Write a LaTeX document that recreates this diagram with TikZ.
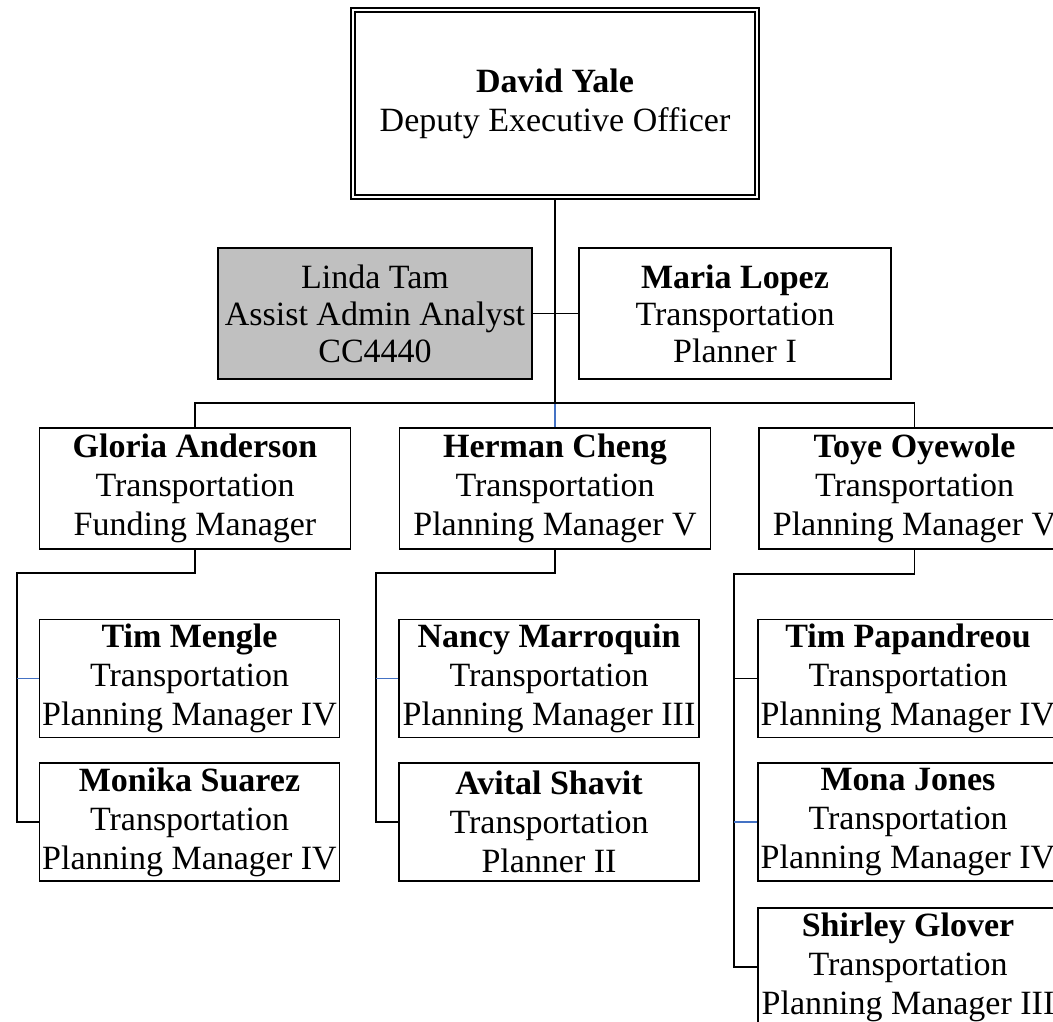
\documentclass[tikz,border=0pt]{standalone}
\usepackage{fontspec}
\setmainfont{Liberation Serif}
\definecolor{linkblue}{HTML}{4472C4}
\definecolor{boxgray}{HTML}{C0C0C0}
\begin{document}
\begin{tikzpicture}[x=1pt,y=-1pt,
  box/.style={draw=black, line width=1.7pt, fill=white, inner sep=0pt, align=center,
    font=\fontsize{34}{39}\selectfont},
  row/.style={box, minimum width=311pt, minimum height=121pt},
  sub/.style={box, minimum width=300pt, minimum height=118pt},
  conn/.style={draw=black, line width=1.7pt},
  bconn/.style={draw=linkblue, line width=1.7pt}]
\useasboundingbox (0,0) rectangle (1053,1021);
\clip (0,0) rectangle (1053,1021);
% top
\node[box, line width=2.2pt, minimum width=408pt, minimum height=191pt] (yale) at (555,103.5)
  {\textbf{David Yale}\\Deputy Executive Officer};
\draw[line width=1.4pt] ([shift={(5,5)}]yale.north west) rectangle ([shift={(-5,-5)}]yale.south east);
\node[box, fill=boxgray, minimum width=314pt, minimum height=131pt, font=\fontsize{34}{37}\selectfont] (linda) at (375,313.5)
  {Linda Tam\\Assist Admin Analyst\\CC4440};
\node[box, minimum width=312pt, minimum height=131pt, font=\fontsize{34}{37}\selectfont] (maria) at (735,313.5)
  {\textbf{Maria Lopez}\\Transportation\\Planner I};
% managers
\node[row] (gloria) at (195,488.5) {\textbf{Gloria Anderson}\\Transportation\\Funding Manager};
\node[row] (herman) at (555,488.5) {\textbf{Herman Cheng}\\Transportation\\Planning Manager V};
\node[row] (toye) at (914.5,488.5) {\textbf{Toye Oyewole}\\Transportation\\Planning Manager V};
% subordinates
\node[sub] (timm) at (189.5,678.5) {\textbf{Tim Mengle}\\Transportation\\Planning Manager IV};
\node[sub] (monika) at (189.5,822) {\textbf{Monika Suarez}\\Transportation\\Planning Manager IV};
\node[sub] (nancy) at (549,678.5) {\textbf{Nancy Marroquin}\\Transportation\\Planning Manager III};
\node[sub] (avital) at (549,822) {\textbf{Avital Shavit}\\Transportation\\Planner II};
\node[sub] (timp) at (908,678.5) {\textbf{Tim Papandreou}\\Transportation\\Planning Manager IV};
\node[sub] (mona) at (908,822) {\textbf{Mona Jones}\\Transportation\\Planning Manager IV};
\node[sub] (shirley) at (908,967) {\textbf{Shirley Glover}\\Transportation\\Planning Manager III};
% coordinates
\coordinate (bj) at (555,403);
\coordinate (gL) at (17,573);
\coordinate (hL) at (376,573);
\coordinate (tL) at (734,574);
% connectors
\draw[conn] (yale.south) -- (bj);
\draw[bconn] (bj) -- (herman.north);
\draw[conn] (linda.east) -- (maria.west);
\draw[conn] (gloria.north) |- (bj);
\draw[conn] (toye.north) |- (bj);
\draw[conn] (gloria.south) |- (gL) |- (monika.west);
\draw[bconn] (timm.west) -- (timm.west -| gL);
\draw[conn] (herman.south) |- (hL) |- (avital.west);
\draw[bconn] (nancy.west) -- (nancy.west -| hL);
\draw[conn] (toye.south) |- (tL) |- (shirley.west);
\draw[conn] (timp.west) -- (timp.west -| tL);
\draw[bconn] (mona.west) -- (mona.west -| tL);
\end{tikzpicture}
\end{document}
